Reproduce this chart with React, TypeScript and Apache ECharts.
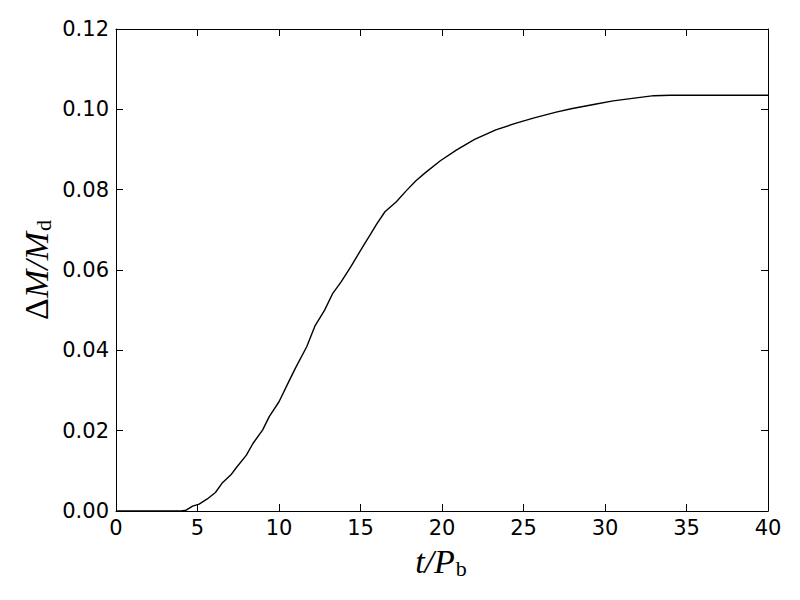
import React, { useEffect, useRef } from "react";
import * as echarts from "echarts";

const tValues = [0, 1, 2, 3, 4, 4.3, 4.7, 5.1, 5.6, 6.1, 6.5, 7.05, 7.4, 8.0, 8.4, 9.0, 9.4, 10.0, 10.6, 11.0, 11.7, 12.2, 12.8, 13.3, 13.8, 14.4, 15.2, 15.6, 16.0, 16.5, 17.2, 17.8, 18.4, 19.0, 19.9, 20.9, 22.0, 23.3, 24.5, 25.6, 27.0, 28.0, 29.3, 30.5, 31.8, 33.0, 34.0, 36.0, 38.0, 40.0];
const dmValues = [0, 0, 0, 0, 0, 0.0002, 0.0012, 0.0017, 0.003, 0.0046, 0.0069, 0.009, 0.0109, 0.0139, 0.0168, 0.0202, 0.0235, 0.0272, 0.0322, 0.0355, 0.0409, 0.046, 0.050, 0.0542, 0.057, 0.0608, 0.0662, 0.0688, 0.0715, 0.0745, 0.077, 0.0797, 0.0822, 0.0843, 0.0872, 0.0899, 0.0925, 0.0949, 0.0965, 0.0978, 0.0993, 0.1002, 0.1012, 0.1021, 0.1028, 0.1034, 0.1035, 0.1035, 0.1035, 0.1035];
const xTicks = { min: 0, max: 40, interval: 5 };
const yTicks = { min: 0, max: 0.12, interval: 0.02 };

export default function App() {
  const ref = useRef<HTMLDivElement>(null);
  useEffect(() => {
    if (!ref.current) return;
    const chart = echarts.init(ref.current, null, { renderer: "svg" });
    const axisLine = { show: true, onZero: false, lineStyle: { color: "#000", width: 1 } };
    const tick = { show: true, inside: true, length: 7, lineStyle: { color: "#000", width: 1 } };
    const label = { color: "#000", fontSize: 21, fontFamily: "DejaVu Sans" };
    chart.setOption({
      animation: false,
      backgroundColor: "#fff",
      grid: { left: 116, right: 32, top: 29, bottom: 89, containLabel: false },
      xAxis: [
        {
          type: "value", ...xTicks, position: "bottom",
          axisLine, axisTick: tick, splitLine: { show: false },
          axisLabel: { ...label, margin: 6 },
        },
        {
          type: "value", ...xTicks, position: "top",
          axisLine, axisTick: tick, splitLine: { show: false },
          axisLabel: { show: false },
        },
      ],
      yAxis: [
        {
          type: "value", ...yTicks, position: "left",
          axisLine, axisTick: tick, splitLine: { show: false },
          axisLabel: { ...label, margin: 7, formatter: (v: number) => v.toFixed(2) },
        },
        {
          type: "value", ...yTicks, position: "right",
          axisLine, axisTick: tick, splitLine: { show: false },
          axisLabel: { show: false },
        },
      ],
      graphic: [
        {
          type: "text",
          x: 441, y: 561,
          style: {
            text: "{i|t/P}{s|b}",
            align: "center", verticalAlign: "middle",
            rich: {
              i: { fontFamily: "Liberation Serif", fontStyle: "italic", fontSize: 34, fill: "#000" },
              s: { fontFamily: "Liberation Serif", fontSize: 22, fill: "#000", padding: [14, 0, 0, 1] },
            },
          },
        },
        {
          type: "text",
          x: 36, y: 270, rotation: Math.PI / 2,
          style: {
            text: "{u|Δ}{i|M/M}{s|d}",
            align: "center", verticalAlign: "middle",
            rich: {
              u: { fontFamily: "Liberation Serif", fontSize: 34, fill: "#000" },
              i: { fontFamily: "Liberation Serif", fontStyle: "italic", fontSize: 34, fill: "#000" },
              s: { fontFamily: "Liberation Serif", fontSize: 22, fill: "#000", padding: [14, 0, 0, 1] },
            },
          },
        },
      ],
      series: [
        {
          type: "line",
          xAxisIndex: 0, yAxisIndex: 0,
          data: tValues.map((t, i) => [t, dmValues[i]]),
          showSymbol: false,
          symbol: "none",
          lineStyle: { color: "#000", width: 1.4 },
          smooth: false,
        },
      ],
    });
    return () => chart.dispose();
  }, []);
  return <div ref={ref} style={{ position: "fixed", left: 0, top: 0, width: 800, height: 600 }} />;
}
